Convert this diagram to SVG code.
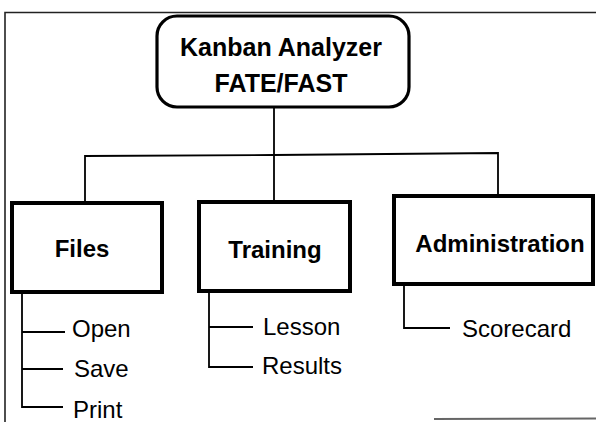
<svg xmlns="http://www.w3.org/2000/svg" width="596" height="422" viewBox="0 0 596 422">
<style>
.frame{fill:none;stroke:#222;stroke-width:1.6}
.box{fill:#fff;stroke:#000;stroke-width:4}
.root{fill:#fff;stroke:#000;stroke-width:3.2}
.conn{fill:none;stroke:#000;stroke-width:1.8}
.title{font-family:"Liberation Sans",Arial,sans-serif;font-weight:bold;font-size:25px;fill:#000;text-anchor:middle}
.head{font-family:"Liberation Sans",Arial,sans-serif;font-weight:bold;font-size:24px;fill:#000;text-anchor:middle}
.item{font-family:"Liberation Sans",Arial,sans-serif;font-size:24px;fill:#000}
</style>
<rect width="596" height="422" fill="#fff"/>
<g id="frame">
<path class="frame" d="M5,422 V12.5 H596"/>
<line x1="434" y1="419" x2="596" y2="418.5" stroke="#666" stroke-width="2"/>
</g>
<g id="connectors">
<path class="conn" d="M274,107 V202"/>
<path class="conn" d="M85,203 V156 L274,155 L498,153 V196"/>
<path class="conn" d="M22,292 V407 H63 M22,332 H65 M22,369 H63"/>
<path class="conn" d="M209,291 V367 H253 M209,327 H253"/>
<path class="conn" d="M404,284 V328 H450"/>
</g>
<g id="root">
<rect class="root" x="157" y="16" width="252" height="91" rx="20" ry="20"/>
<text class="title" x="281" y="56">Kanban Analyzer</text>
<text class="title" x="281" y="92">FATE/FAST</text>
</g>
<g id="files">
<rect class="box" x="12" y="203" width="150" height="89"/>
<text class="head" x="82" y="257">Files</text>
</g>
<g id="training">
<rect class="box" x="199" y="202" width="151" height="89"/>
<text class="head" x="275" y="258">Training</text>
</g>
<g id="administration">
<rect class="box" x="394" y="196" width="199" height="88"/>
<text class="head" x="500" y="252">Administration</text>
</g>
<g id="open"><text class="item" x="72" y="337">Open</text></g>
<g id="save"><text class="item" x="74" y="377">Save</text></g>
<g id="print"><text class="item" x="73" y="418">Print</text></g>
<g id="lesson"><text class="item" x="263" y="335">Lesson</text></g>
<g id="results"><text class="item" x="262" y="374">Results</text></g>
<g id="scorecard"><text class="item" x="462" y="337">Scorecard</text></g>
</svg>
